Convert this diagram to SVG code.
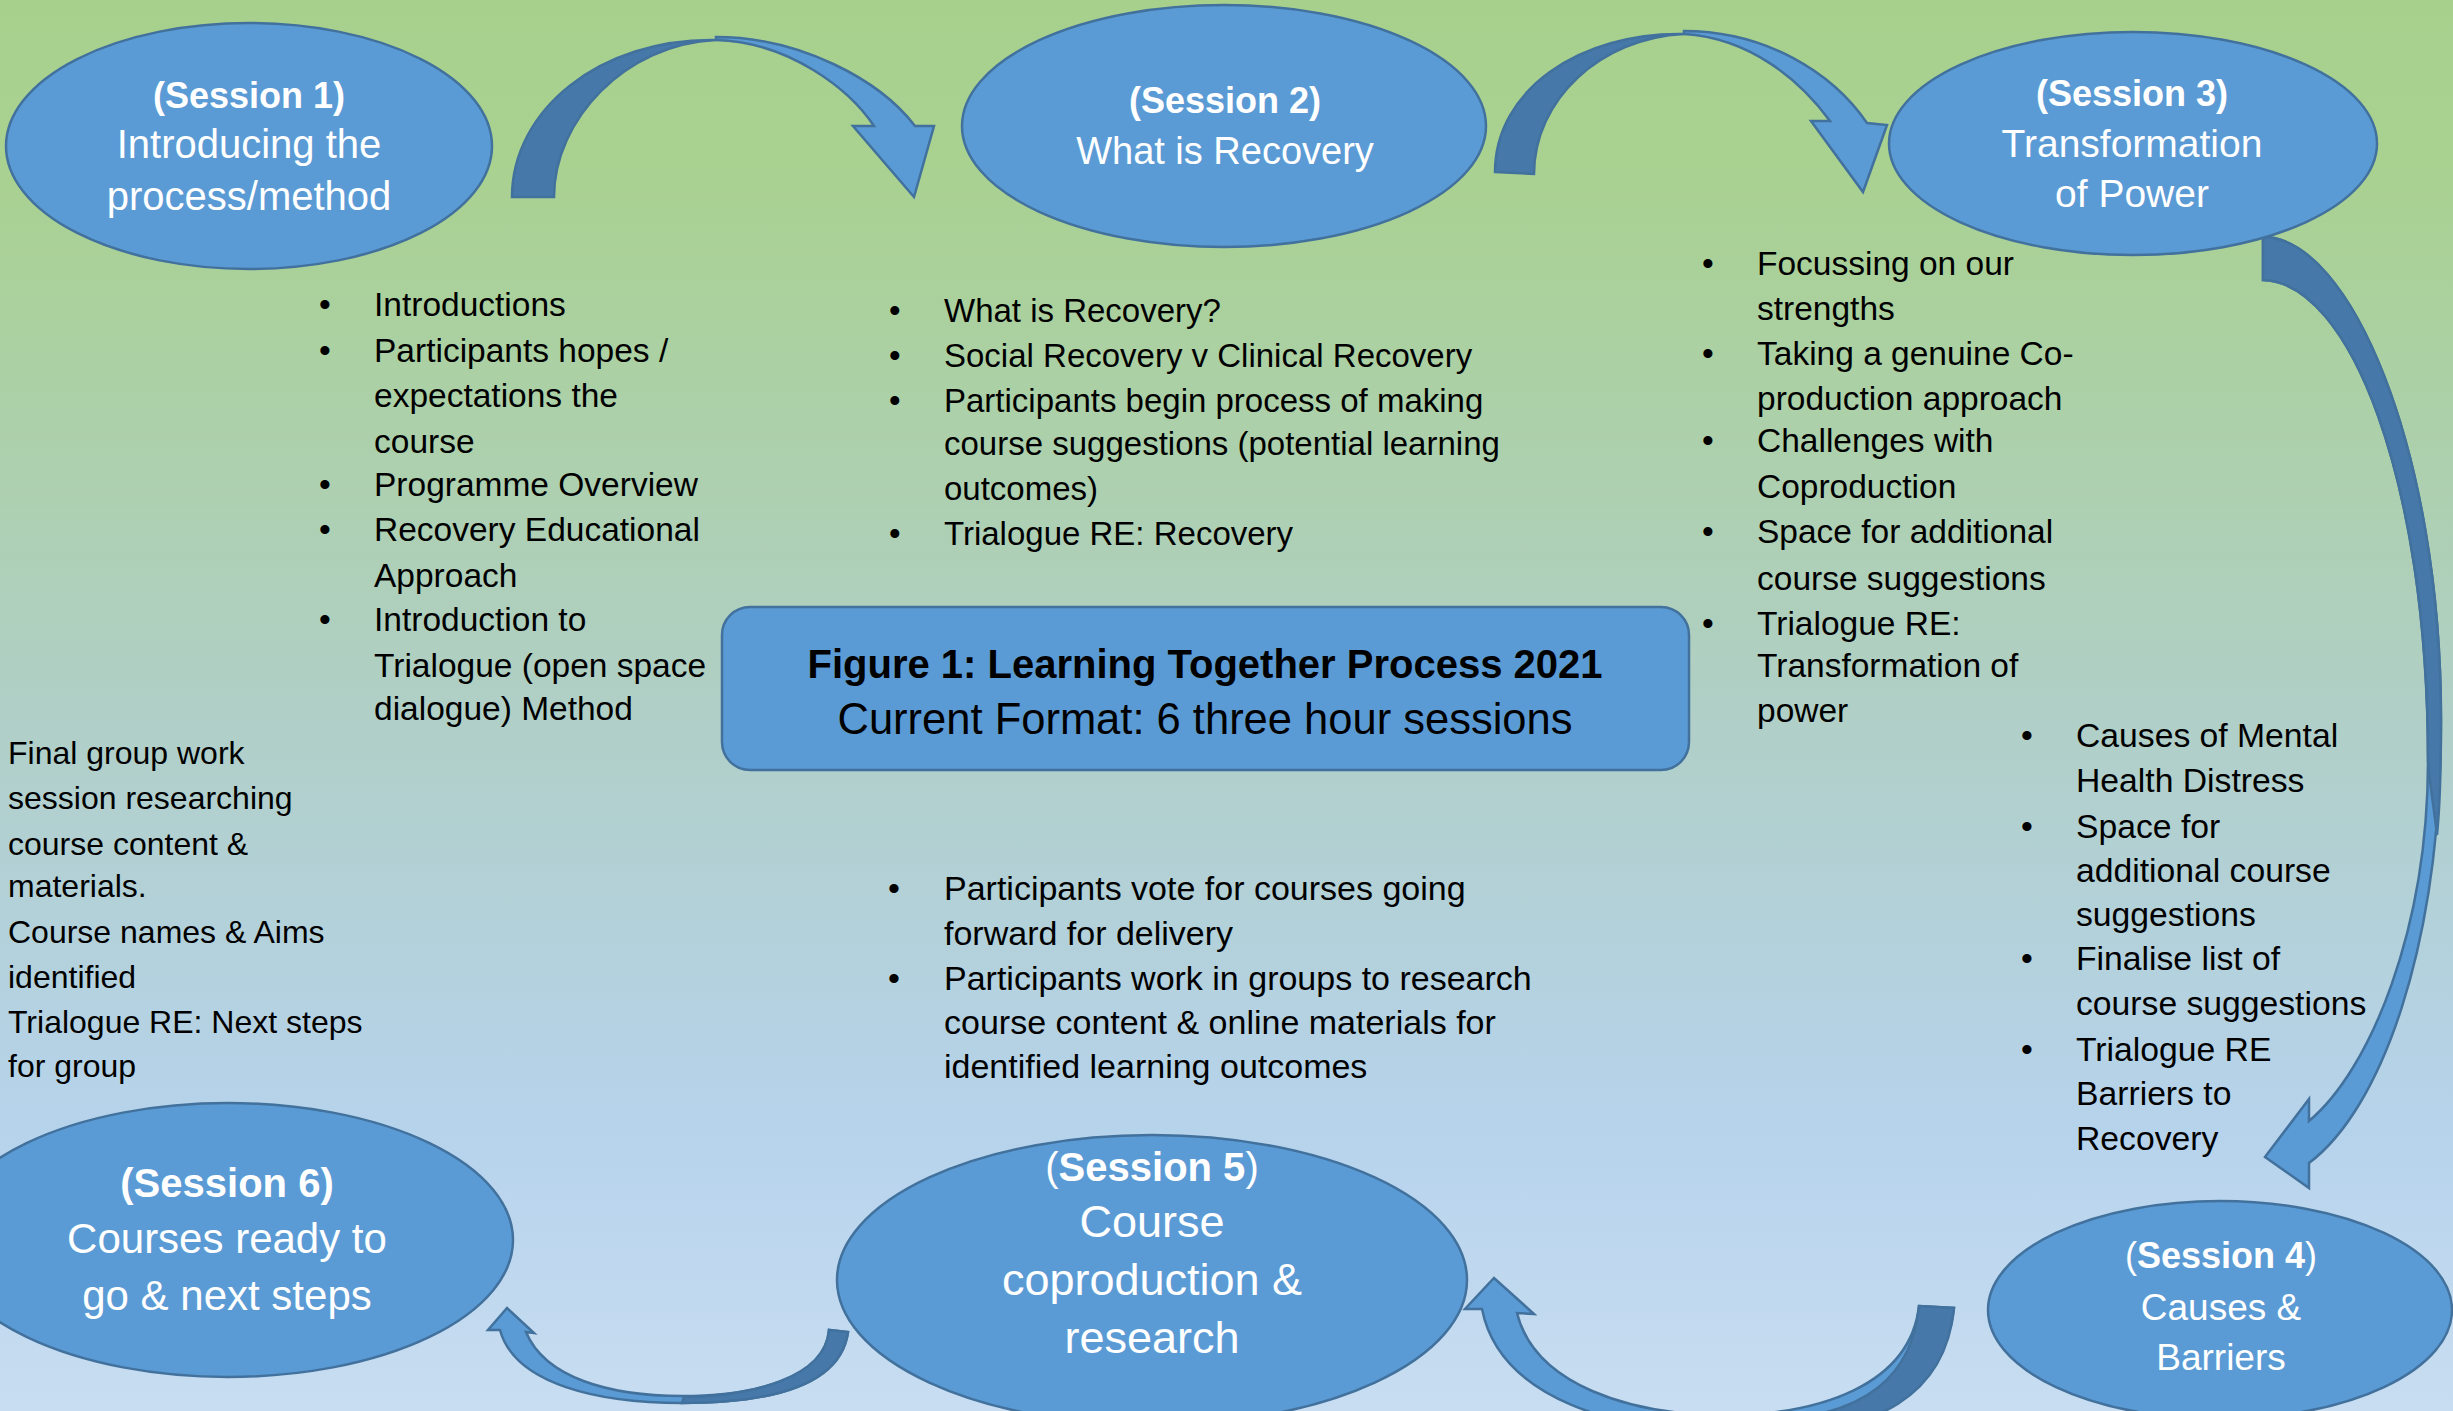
<svg xmlns="http://www.w3.org/2000/svg" width="2453" height="1411" viewBox="0 0 2453 1411">
<defs>
<linearGradient id="bgGrad" x1="0" y1="0" x2="0" y2="1">
<stop offset="0" stop-color="#a8d08d"/>
<stop offset="0.12" stop-color="#a9d190"/>
<stop offset="0.5" stop-color="#b0cfc6"/>
<stop offset="0.8" stop-color="#b6d3ec"/>
<stop offset="1" stop-color="#c8ddf1"/>
</linearGradient>
<style>
.node ellipse, .node rect { fill:#5b9bd5; stroke:#41719c; stroke-width:2.5; }
.nt { font-family:'Liberation Sans', Arial, sans-serif; fill:#ffffff; text-anchor:middle; }
.b { font-weight:bold; }
.body { font-family:'Liberation Sans', Arial, sans-serif; fill:#000000; }
.ct { font-family:'Liberation Sans', Arial, sans-serif; fill:#000000; text-anchor:middle; }
.al { fill:#5b9bd5; stroke:#41719c; stroke-width:2.5; stroke-linejoin:miter; }
.ad { fill:#4679aa; stroke:#41719c; stroke-width:2.5; stroke-linejoin:miter; }
</style>
</defs>
<rect x="0" y="0" width="2453" height="1411" fill="url(#bgGrad)"/>

<g id="connectors">
  <!-- Session 1 -> 2 -->
  <g id="arrow1">
    <path class="al" d="M716,37 C800,37 880,80 915,126 L934,126 L914,197 L853,126 L874,126 C850,90 790,42 716,40 Z"/>
    <path class="ad" d="M512,197 L554,197 C554,120 625,44 716,40 C600,38 512,110 512,197 Z"/>
  </g>
  <!-- Session 2 -> 3 -->
  <g id="arrow2">
    <path class="al" d="M1684,31 C1765,31 1832,72 1867,123 L1887,125 L1863,192 L1811,121 L1830,121 C1800,80 1750,38 1684,34 Z"/>
    <path class="ad" d="M1495,172 L1534,174 C1534,100 1600,38 1684,34 C1580,32 1495,90 1495,172 Z"/>
  </g>
  <!-- Session 3 -> 4 -->
  <g id="arrow3">
    <path class="al" d="M2263,237 C2350,237 2441,450 2441,720 C2441,950 2380,1110 2309,1163 L2309,1188 L2265,1157 L2309,1099 L2309,1121 C2370,1070 2428,930 2428,760 C2428,480 2350,282 2263,280 Z"/>
    <path class="ad" d="M2263,237 C2350,237 2441,450 2441,720 C2441,770 2440,805 2437,835 C2433,800 2429,780 2428,760 C2428,480 2350,282 2263,280 Z"/>
  </g>
  <!-- Session 4 -> 5 -->
  <g id="arrow4">
    <path class="al" d="M1482,1309 L1465,1309 L1494,1278 L1534,1314 L1517,1313 C1535,1385 1630,1415 1725,1415 C1820,1415 1910,1385 1919,1306 L1954,1308 C1945,1400 1830,1432 1725,1432 C1620,1432 1500,1400 1482,1309 Z"/>
    <path class="ad" d="M1919,1306 L1954,1308 C1945,1400 1870,1430 1785,1432 L1790,1418 C1860,1412 1912,1380 1919,1306 Z"/>
  </g>
  <!-- Session 5 -> 6 -->
  <g id="arrow5">
    <path class="al" d="M500,1330 L488,1330 L507,1308 L534,1333 L526,1332 C545,1378 610,1396 682,1396 C750,1396 825,1380 829,1330 L848,1332 C840,1390 760,1403 682,1403 C600,1403 515,1385 500,1330 Z"/>
    <path class="ad" d="M829,1330 L848,1332 C840,1390 760,1403 682,1403 L684,1397 C752,1396 825,1378 829,1330 Z"/>
  </g>
</g>

<g id="session1" class="node">
  <ellipse cx="249" cy="146" rx="243" ry="123"/>
  <text class="nt b" x="249" y="108" font-size="36">(Session 1)</text>
  <text class="nt" x="249" y="158" font-size="40">Introducing the</text>
  <text class="nt" x="249" y="210" font-size="40">process/method</text>
</g>

<g id="session2" class="node">
  <ellipse cx="1224" cy="126" rx="262" ry="121"/>
  <text class="nt b" x="1225" y="113" font-size="36">(Session 2)</text>
  <text class="nt" x="1225" y="164" font-size="38">What is Recovery</text>
</g>

<g id="session3" class="node">
  <ellipse cx="2133" cy="143.5" rx="244" ry="111.5"/>
  <text class="nt b" x="2132" y="106" font-size="36">(Session 3)</text>
  <text class="nt" x="2132" y="157" font-size="39">Transformation</text>
  <text class="nt" x="2132" y="207" font-size="39">of Power</text>
</g>

<g id="session4" class="node">
  <ellipse cx="2220" cy="1310" rx="232" ry="109"/>
  <text class="nt" x="2221" y="1268" font-size="36"><tspan>(</tspan><tspan class="b">Session 4</tspan><tspan>)</tspan></text>
  <text class="nt" x="2221" y="1320" font-size="37">Causes &amp;</text>
  <text class="nt" x="2221" y="1370" font-size="37">Barriers</text>
</g>

<g id="session5" class="node">
  <ellipse cx="1152" cy="1280" rx="315" ry="145"/>
  <text class="nt" x="1152" y="1181" font-size="40"><tspan>(</tspan><tspan class="b">Session 5</tspan><tspan>)</tspan></text>
  <text class="nt" x="1152" y="1237" font-size="45">Course</text>
  <text class="nt" x="1152" y="1295" font-size="45">coproduction &amp;</text>
  <text class="nt" x="1152" y="1353" font-size="45">research</text>
</g>

<g id="session6" class="node">
  <ellipse cx="228" cy="1240" rx="285" ry="137"/>
  <text class="nt b" x="227" y="1197" font-size="40">(Session 6)</text>
  <text class="nt" x="227" y="1253" font-size="42">Courses ready to</text>
  <text class="nt" x="227" y="1310" font-size="42">go &amp; next steps</text>
</g>

<g id="title" class="node">
  <rect x="722" y="607" width="967" height="163" rx="28" ry="28"/>
  <text class="ct b" x="1205" y="678" font-size="40">Figure 1: Learning Together Process 2021</text>
  <text class="ct" x="1205" y="734" font-size="43.5">Current Format: 6 three hour sessions</text>
</g>

<g id="notes1" class="body" font-size="33.5">
  <text x="319" y="316">•</text><text x="374" y="316">Introductions</text>
  <text x="319" y="362">•</text><text x="374" y="362">Participants hopes /</text>
  <text x="374" y="407">expectations the</text>
  <text x="374" y="453">course</text>
  <text x="319" y="496">•</text><text x="374" y="496">Programme Overview</text>
  <text x="319" y="541">•</text><text x="374" y="541">Recovery Educational</text>
  <text x="374" y="587">Approach</text>
  <text x="319" y="631">•</text><text x="374" y="631">Introduction to</text>
  <text x="374" y="677">Trialogue (open space</text>
  <text x="374" y="720">dialogue) Method</text>
</g>

<g id="notes2" class="body" font-size="33">
  <text x="889" y="322">•</text><text x="944" y="322">What is Recovery?</text>
  <text x="889" y="367">•</text><text x="944" y="367">Social Recovery v Clinical Recovery</text>
  <text x="889" y="412">•</text><text x="944" y="412">Participants begin process of making</text>
  <text x="944" y="455">course suggestions (potential learning</text>
  <text x="944" y="500">outcomes)</text>
  <text x="889" y="545">•</text><text x="944" y="545">Trialogue RE: Recovery</text>
</g>

<g id="notes3" class="body" font-size="33.5">
  <text x="1702" y="275">•</text><text x="1757" y="275">Focussing on our</text>
  <text x="1757" y="320">strengths</text>
  <text x="1702" y="365">•</text><text x="1757" y="365">Taking a genuine Co-</text>
  <text x="1757" y="410">production approach</text>
  <text x="1702" y="452">•</text><text x="1757" y="452">Challenges with</text>
  <text x="1757" y="498">Coproduction</text>
  <text x="1702" y="543">•</text><text x="1757" y="543">Space for additional</text>
  <text x="1757" y="590">course suggestions</text>
  <text x="1702" y="635">•</text><text x="1757" y="635">Trialogue RE:</text>
  <text x="1757" y="677">Transformation of</text>
  <text x="1757" y="722">power</text>
</g>

<g id="notes4" class="body" font-size="33.7">
  <text x="2021" y="747">•</text><text x="2076" y="747">Causes of Mental</text>
  <text x="2076" y="792">Health Distress</text>
  <text x="2021" y="838">•</text><text x="2076" y="838">Space for</text>
  <text x="2076" y="882">additional course</text>
  <text x="2076" y="926">suggestions</text>
  <text x="2021" y="970">•</text><text x="2076" y="970">Finalise list of</text>
  <text x="2076" y="1015">course suggestions</text>
  <text x="2021" y="1061">•</text><text x="2076" y="1061">Trialogue RE</text>
  <text x="2076" y="1105">Barriers to</text>
  <text x="2076" y="1150">Recovery</text>
</g>

<g id="notes5" class="body" font-size="34">
  <text x="888" y="900">•</text><text x="944" y="900">Participants vote for courses going</text>
  <text x="944" y="945">forward for delivery</text>
  <text x="888" y="990">•</text><text x="944" y="990">Participants work in groups to research</text>
  <text x="944" y="1034">course content &amp; online materials for</text>
  <text x="944" y="1078">identified learning outcomes</text>
</g>

<g id="notes6" class="body" font-size="32">
  <text x="8" y="764">Final group work</text>
  <text x="8" y="809">session researching</text>
  <text x="8" y="855">course content &amp;</text>
  <text x="8" y="897">materials.</text>
  <text x="8" y="943">Course names &amp; Aims</text>
  <text x="8" y="988">identified</text>
  <text x="8" y="1033">Trialogue RE: Next steps</text>
  <text x="8" y="1077">for group</text>
</g>
</svg>
